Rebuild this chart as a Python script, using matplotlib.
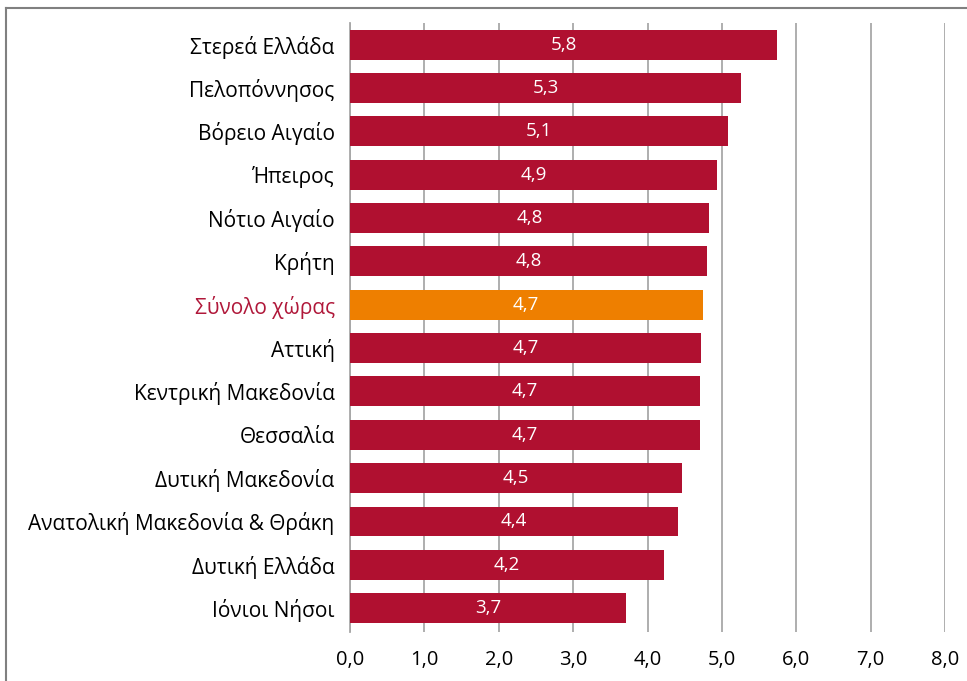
import matplotlib
matplotlib.use("Agg")
import matplotlib.pyplot as plt
from matplotlib.lines import Line2D

regions = [
    "Στερεά Ελλάδα",
    "Πελοπόννησος",
    "Βόρειο Αιγαίο",
    "Ήπειρος",
    "Νότιο Αιγαίο",
    "Κρήτη",
    "Σύνολο χώρας",
    "Αττική",
    "Κεντρική Μακεδονία",
    "Θεσσαλία",
    "Δυτική Μακεδονία",
    "Ανατολική Μακεδονία & Θράκη",
    "Δυτική Ελλάδα",
    "Ιόνιοι Νήσοι",
]
values = [5.74, 5.26, 5.08, 4.93, 4.83, 4.80, 4.74, 4.72, 4.71, 4.70, 4.46, 4.41, 4.22, 3.71]
labels = ["5,8", "5,3", "5,1", "4,9", "4,8", "4,8", "4,7", "4,7", "4,7", "4,7", "4,5", "4,4", "4,2", "3,7"]
ticks = [0, 1, 2, 3, 4, 5, 6, 7, 8]

red = "#B01030"
orange = "#EE7F00"
total_name = "Σύνολο χώρας"

plt.rcParams["font.family"] = ["Open Sans", "DejaVu Sans"]

fig = plt.figure(figsize=(9.67, 6.81), dpi=100)
ax = fig.add_axes([350 / 967, 1 - 632 / 681, 595 / 967, 609 / 681])

pos = list(range(len(regions)))
colors = [orange if r == total_name else red for r in regions]
bars = ax.barh(pos, values, height=0.69, color=colors, zorder=3)

for b, lab in zip(bars, labels):
    ax.text(b.get_width() / 2, b.get_y() + b.get_height() / 2, lab,
            ha="center", va="center", color="white", fontsize=13.5, zorder=4)

ax.set_xlim(0, 8)
ax.set_ylim(len(regions) - 0.45, -0.5)
ax.set_xticks(ticks)
ax.set_xticklabels([f"{t:.1f}".replace(".", ",") for t in ticks], fontsize=14.5)
ax.set_yticks(pos)
ax.set_yticklabels(regions, fontsize=15)
for lbl in ax.get_yticklabels():
    if lbl.get_text() == total_name:
        lbl.set_color("#B0183A")

ax.grid(axis="x", color="#A8A8A8", linewidth=1.3, zorder=0)
ax.tick_params(axis="both", length=0)
ax.tick_params(axis="x", pad=13)
ax.tick_params(axis="y", pad=11)
for s in ["top", "right", "bottom"]:
    ax.spines[s].set_visible(False)
ax.spines["left"].set_color("#A8A8A8")
ax.spines["left"].set_linewidth(1.3)

# outer frame (left and top edges)
fig.add_artist(Line2D([6 / 967, 6 / 967], [0, 1 - 8 / 681], color="#808080", lw=1.5))
fig.add_artist(Line2D([6 / 967, 1], [1 - 8 / 681, 1 - 8 / 681], color="#808080", lw=1.5))

fig.savefig("out.png", dpi=100)
